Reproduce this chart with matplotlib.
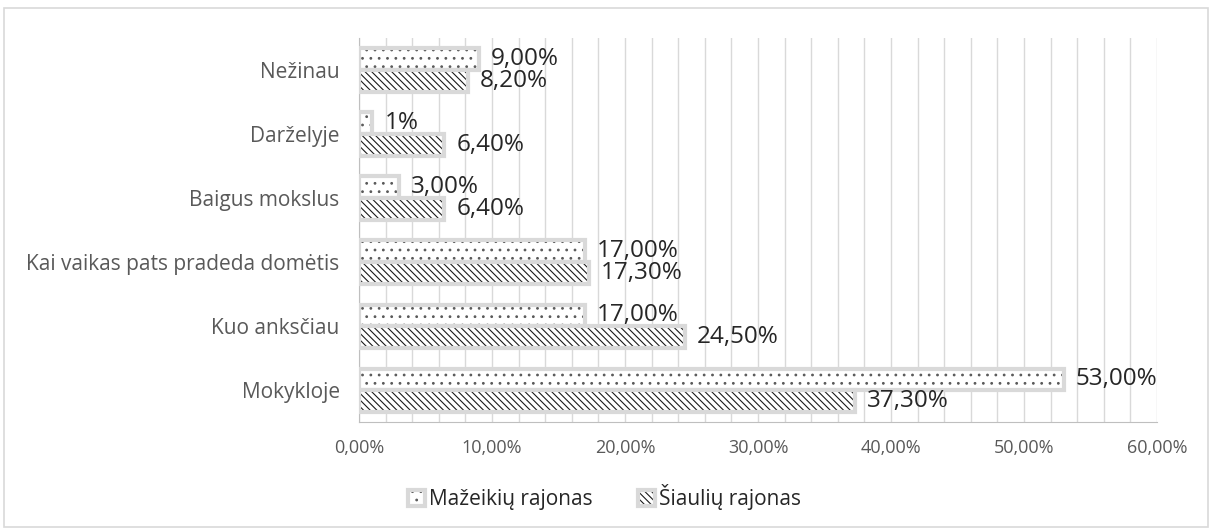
import matplotlib.pyplot as plt
from matplotlib.patches import Rectangle
from matplotlib.ticker import MultipleLocator, FuncFormatter

plt.rcParams["font.family"] = ["Open Sans", "DejaVu Sans"]
plt.rcParams["hatch.linewidth"] = 0.8

categories = ["Mokykloje", "Kuo anksčiau", "Kai vaikas pats pradeda domėtis",
              "Baigus mokslus", "Darželyje", "Nežinau"]
mazeikiai = [53.0, 17.0, 17.0, 3.0, 1.0, 9.0]
siauliai = [37.3, 24.5, 17.3, 6.4, 6.4, 8.2]
mazeikiai_labels = ["53,00%", "17,00%", "17,00%", "3,00%", "1%", "9,00%"]
siauliai_labels = ["37,30%", "24,50%", "17,30%", "6,40%", "6,40%", "8,20%"]
series_names = ["Mažeikių rajonas", "Šiaulių rajonas"]

fig = plt.figure(figsize=(12.09, 5.28), dpi=100)
fig.patches.append(Rectangle((0.003, 0.002), 0.996, 0.983, transform=fig.transFigure,
                             fill=False, edgecolor="#d9d9d9", linewidth=1.2))
ax = fig.add_axes([0.297, 0.2, 0.66, 0.728])

h = 0.34
y = list(range(len(categories)))
edge = "#d9d9d9"
b1 = ax.barh([v + h / 2 for v in y], mazeikiai, height=h, color="white",
             edgecolor=edge, linewidth=3, hatch="..", label=series_names[0], zorder=3)
b2 = ax.barh([v - h / 2 for v in y], siauliai, height=h, color="white",
             edgecolor=edge, linewidth=3, hatch="\\\\\\\\\\", label=series_names[1], zorder=3)
for bar in b1:
    bar._hatch_color = (0.35, 0.35, 0.35, 1)
for bar in b2:
    bar._hatch_color = (0.1, 0.1, 0.1, 1)

for v, val, lab in zip(y, mazeikiai, mazeikiai_labels):
    ax.text(val + 0.9, v + h / 2, lab, va="center", ha="left", fontsize=17.5, color="#262626")
for v, val, lab in zip(y, siauliai, siauliai_labels):
    ax.text(val + 0.9, v - h / 2, lab, va="center", ha="left", fontsize=17.5, color="#262626")

ax.set_xlim(0, 60)
ax.set_ylim(-0.5, len(categories) - 0.5)
ax.xaxis.set_major_locator(MultipleLocator(10))
ax.xaxis.set_minor_locator(MultipleLocator(2))
ax.xaxis.set_major_formatter(FuncFormatter(lambda x, _: f"{x:.2f}%".replace(".", ",")))
ax.grid(axis="x", which="both", color="#d9d9d9", linewidth=1, zorder=0)
ax.set_yticks(y)
ax.set_yticklabels(categories, fontsize=15)
ax.tick_params(axis="both", which="both", length=0, colors="#595959")
ax.tick_params(axis="x", labelsize=13, pad=12)
ax.tick_params(axis="y", pad=14)
for s in ["top", "right"]:
    ax.spines[s].set_visible(False)
ax.spines["bottom"].set_color("#bfbfbf")
ax.spines["left"].set_color("#bfbfbf")

leg = fig.legend(handles=[b1, b2], labels=series_names, loc="center",
                 bbox_to_anchor=(0.5, 0.058), ncol=2, frameon=False, fontsize=15,
                 handlelength=0.8, handleheight=0.8, handletextpad=0.2, columnspacing=2.2)
for t in leg.get_texts():
    t.set_color("#262626")

fig.savefig("out.png", dpi=100)
